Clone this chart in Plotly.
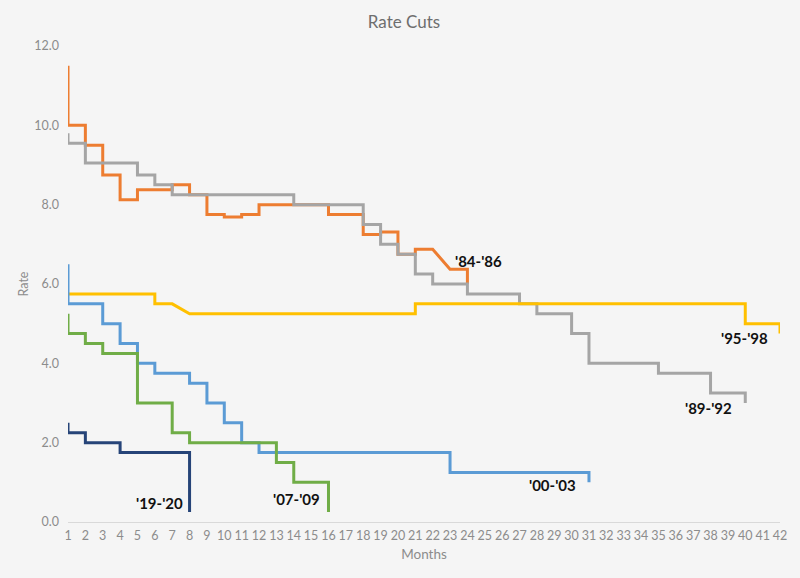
import plotly.graph_objects as go

# ---- data ----
months = list(range(1, 43))

x_84_86 = [1, 1, 2, 2, 3, 3, 4, 4, 5, 5, 7, 7, 8, 8, 9, 9, 10, 10, 11, 11, 12, 12, 16, 16, 18, 18, 19, 19, 20, 20, 21, 21, 22, 23, 24, 24]
y_84_86 = [11.5, 10.0, 10.0, 9.5, 9.5, 8.75, 8.75, 8.125, 8.125, 8.375, 8.375, 8.5, 8.5, 8.25, 8.25, 7.75, 7.75, 7.6875, 7.6875, 7.75, 7.75, 8.0, 8.0, 7.75, 7.75, 7.25, 7.25, 7.3125, 7.3125, 6.75, 6.75, 6.875, 6.875, 6.375, 6.375, 6.0]

x_89_92 = [1, 1, 2, 2, 5, 5, 6, 6, 7, 7, 14, 14, 18, 18, 19, 19, 20, 20, 21, 21, 22, 22, 24, 24, 27, 27, 28, 28, 30, 30, 31, 31, 35, 35, 38, 38, 40, 40]
y_89_92 = [9.8, 9.55, 9.55, 9.05, 9.05, 8.75, 8.75, 8.5, 8.5, 8.25, 8.25, 8.0, 8.0, 7.5, 7.5, 7.0, 7.0, 6.75, 6.75, 6.25, 6.25, 6.0, 6.0, 5.75, 5.75, 5.5, 5.5, 5.25, 5.25, 4.75, 4.75, 4.0, 4.0, 3.75, 3.75, 3.25, 3.25, 3.0]

x_95_98 = [1, 6, 6, 7, 8, 21, 21, 40, 40, 42, 42]
y_95_98 = [5.75, 5.75, 5.5, 5.5, 5.25, 5.25, 5.5, 5.5, 5.0, 5.0, 4.75]

x_00_03 = [1, 1, 3, 3, 4, 4, 5, 5, 6, 6, 8, 8, 9, 9, 10, 10, 11, 11, 12, 12, 23, 23, 31, 31]
y_00_03 = [6.5, 5.5, 5.5, 5.0, 5.0, 4.5, 4.5, 4.0, 4.0, 3.75, 3.75, 3.5, 3.5, 3.0, 3.0, 2.5, 2.5, 2.0, 2.0, 1.75, 1.75, 1.25, 1.25, 1.0]

x_07_09 = [1, 1, 2, 2, 3, 3, 5, 5, 7, 7, 8, 8, 13, 13, 14, 14, 16, 16]
y_07_09 = [5.25, 4.75, 4.75, 4.5, 4.5, 4.25, 4.25, 3.0, 3.0, 2.25, 2.25, 2.0, 2.0, 1.5, 1.5, 1.0, 1.0, 0.25]

x_19_20 = [1, 1, 2, 2, 4, 4, 8, 8]
y_19_20 = [2.5, 2.25, 2.25, 2.0, 2.0, 1.75, 1.75, 0.25]

series_names = ["'84-'86", "'89-'92", "'95-'98", "'00-'03", "'07-'09", "'19-'20"]
y_ticks = [0, 2, 4, 6, 8, 10, 12]

# ---- styling ----
colors = ["#ED7D31", "#A5A5A5", "#FFC000", "#5B9BD5", "#70AD47", "#264478"]
series = [(x_84_86, y_84_86), (x_89_92, y_89_92), (x_95_98, y_95_98),
          (x_00_03, y_00_03), (x_07_09, y_07_09), (x_19_20, y_19_20)]

FONT = "Lato"
bg = "#F5F5F5"
fig = go.Figure()
for (xs, ys), name, c in zip(series, series_names, colors):
    fig.add_trace(go.Scatter(x=xs, y=ys, mode="lines", name=name,
                             line=dict(color=c, width=3), showlegend=False))

# label positions (x, y) in data units
label_pos = [(24.62, 6.59), (37.86, 2.87), (39.93, 4.63), (28.92, 0.93), (14.17, 0.57), (6.29, 0.48)]
for name, (lx, ly) in zip(series_names, label_pos):
    fig.add_annotation(x=lx, y=ly, text="<b>" + name + "</b>", showarrow=False,
                       font=dict(family=FONT, size=15, color="#111111"),
                       xanchor="center", yanchor="middle")

# page body has an 8px margin: size the figure so the plot lands where the reference has it
fig.update_layout(
    width=792, height=570,
    paper_bgcolor=bg, plot_bgcolor=bg,
    margin=dict(l=60, r=20, t=38, b=56),
    title=dict(text="Rate Cuts", x=0.5, xanchor="center", y=0.975, yanchor="middle",
               font=dict(family=FONT, size=17, color="#6E6E6E")),
    font=dict(family=FONT, color="#8C8C8C"),
    xaxis=dict(range=[1, 42], tickmode="array", tickvals=months, automargin=False,
               ticktext=[str(m) for m in months], showgrid=False, zeroline=False,
               showline=False, ticks="", ticklabelstandoff=4,
               tickfont=dict(size=12.5, color="#8C8C8C"),
               title=dict(text="Months", font=dict(size=13.5, color="#8C8C8C"), standoff=8)),
    yaxis=dict(range=[0, 12], tickmode="array", tickvals=y_ticks, automargin=False,
               ticktext=[f"{v:.1f}" for v in y_ticks], showgrid=False,
               zeroline=True, zerolinecolor="#D9D9D9", zerolinewidth=1,
               showline=False, ticks="", ticklabelstandoff=8,
               tickfont=dict(size=12.5, color="#8C8C8C"),
               title=dict(text="Rate", font=dict(size=12.5, color="#8C8C8C"), standoff=2)),
)

fig.write_html("out.html",
               post_script="document.body.style.background='#F5F5F5';")
